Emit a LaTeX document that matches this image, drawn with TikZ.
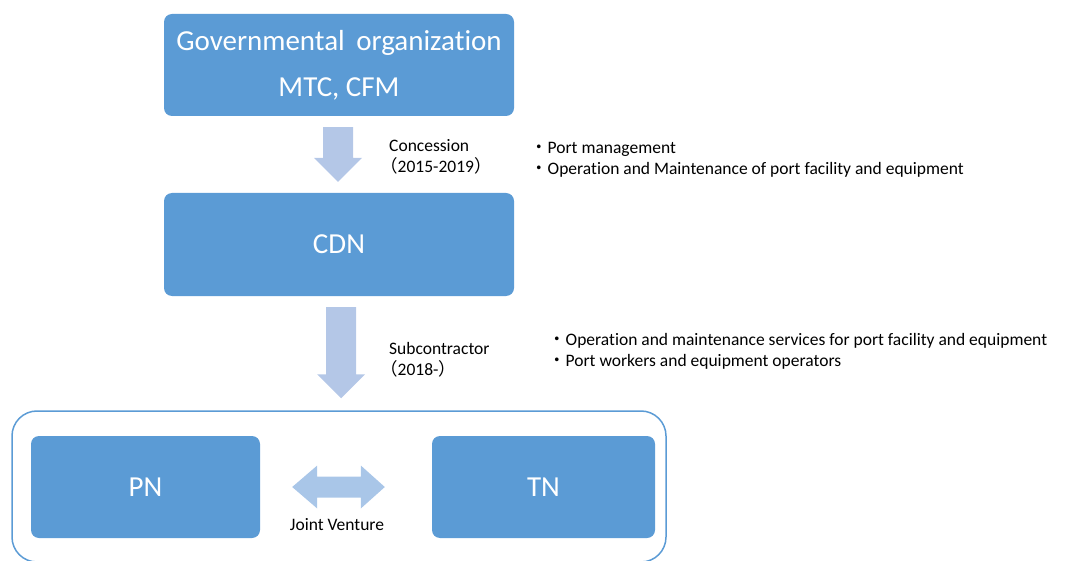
\documentclass[tikz,border=0pt]{standalone}
\usepackage{fontspec}
\setmainfont{Carlito}[Ligatures=NoCommon]
\newfontfamily\cjkfont{Noto Sans CJK JP}
\usetikzlibrary{calc}
\definecolor{boxblue}{HTML}{5B9BD5}
\definecolor{arrowblue}{HTML}{B4C7E7}
\definecolor{jvblue}{HTML}{A9C6E8}
\newcommand{\bigtxt}{\fontsize{29}{46}\selectfont}
\newcommand{\smalltxt}{\fontsize{17.5}{21}\selectfont}
\newcommand{\bul}{{\cjkfont ・}}
\tikzset{
  orgbox/.style={rectangle, rounded corners=8pt, fill=boxblue, text=white,
    font=\bigtxt, align=center, inner sep=0pt},
  note/.style={anchor=base west, font=\smalltxt, inner sep=0pt, text=black},
  blockarrow/.style={fill=arrowblue},
  jvarrow/.style={fill=jvblue},
  group/.style={draw=boxblue, line width=1.5pt, rounded corners=25pt}
}
\begin{document}
\begin{tikzpicture}[x=1pt, y=-1pt]
\useasboundingbox (0,0) rectangle (1065,561);

% organisations
\node[orgbox, minimum width=350pt, minimum height=102pt] (gov) at (339,65)
  {Governmental\hspace{11.5pt}organization\\MTC, CFM};
\node[orgbox, minimum width=350pt, minimum height=103pt] (cdn) at (339,244.5) {CDN};
\node[group, minimum width=654pt, minimum height=151pt] (jv) at (339,486.5) {};
\node[orgbox, minimum width=229pt, minimum height=102pt] (pn) at (145.5,487) {PN};
\node[orgbox, minimum width=223pt, minimum height=102pt] (tn) at (543.5,487) {TN};

% concession arrow
\coordinate (a1s) at ($(gov.south)+(-1,11)$);
\coordinate (a1e) at ($(cdn.north)+(-1,-11)$);
\fill[blockarrow] ($(a1s)+(-15,0)$) -- ($(a1s)+(15,0)$) -- ($(a1e)+(15,-24)$)
  -- ($(a1e)+(24,-24)$) -- (a1e) -- ($(a1e)+(-24,-24)$) -- ($(a1e)+(-15,-24)$) -- cycle;

% subcontractor arrow
\coordinate (a2s) at ($(cdn.south)+(2,11)$);
\coordinate (a2e) at ($(jv.north)+(2,-12)$);
\fill[blockarrow] ($(a2s)+(-15,0)$) -- ($(a2s)+(15,0)$) -- ($(a2e)+(15,-24)$)
  -- ($(a2e)+(24,-24)$) -- (a2e) -- ($(a2e)+(-24,-24)$) -- ($(a2e)+(-15,-24)$) -- cycle;

% joint venture double arrow
\coordinate (jl) at ($(pn.east)+(32,0)$);
\coordinate (jr) at ($(tn.west)+(-47,0)$);
\fill[jvarrow] (jl) -- ($(jl)+(25,-21.5)$) -- ($(jl)+(25,-10.5)$) -- ($(jr)+(-24,-10.5)$)
  -- ($(jr)+(-24,-21.5)$) -- (jr) -- ($(jr)+(-24,21.5)$) -- ($(jr)+(-24,10.5)$)
  -- ($(jl)+(25,10.5)$) -- ($(jl)+(25,21.5)$) -- cycle;

% labels
\node[note] (con) at (389,151.5) {Concession};
\node[note] (cony) at (380,172.5) {{\cjkfont （}2015-2019{\cjkfont ）}};
\node[note] (sub) at (389,354.5) {Subcontractor};
\node[note] (suby) at (380,375.5) {{\cjkfont （}2018-{\cjkfont ）}};
\node[anchor=base, font=\smalltxt, inner sep=0pt] (jvl) at (337,530.5) {Joint Venture};

\node[note] (b1a) at (530,153.5) {\bul Port management};
\node[note] (b1b) at (530,174.5) {\bul Operation and Maintenance of port facility and equipment};
\node[note] (b2a) at (548,345.5) {\bul Operation and maintenance services for port facility and equipment};
\node[note] (b2b) at (548,366.5) {\bul Port workers and equipment operators};
\end{tikzpicture}
\end{document}
